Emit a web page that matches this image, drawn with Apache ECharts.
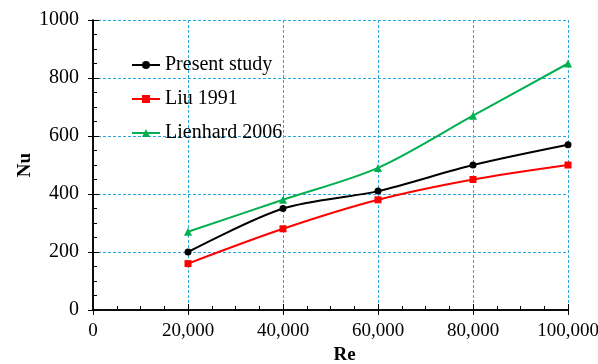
<!DOCTYPE html>
<html>
<head>
<meta charset="utf-8">
<script src="https://cdn.jsdelivr.net/npm/echarts@6/dist/echarts.min.js"></script>
<style>
  html, body { margin: 0; padding: 0; background: #fff; }
  #my-charts { width: 598px; height: 364px; }
</style>
</head>
<body>
<div id="my-charts"></div>
<script>
// data
var reValues = [20000, 40000, 60000, 80000, 100000]
var presentStudy = [200, 350, 410, 500, 570]
var liu1991 = [160, 280, 380, 450, 500]
var lienhard2006 = [270, 380, 490, 670, 850]
var seriesNames = ['Present study', 'Liu 1991', 'Lienhard 2006']

var font = '"Liberation Serif", "Times New Roman", serif'
var gridColor = '#2aa6e0'

function pairs(ys) {
  return reValues.map(function (x, i) { return [x, ys[i]] })
}

function fmt(v) {
  return String(v).replace(/\B(?=(\d{3})+(?!\d))/g, ',')
}

var myChart = echarts.init(document.getElementById('my-charts'))

var axisLine = { show: true, lineStyle: { color: '#000', width: 1.5 } }

var option = {
  animation: false,
  textStyle: { fontFamily: font },
  grid: { left: 93, right: 30, top: 20, bottom: 54, outerBoundsMode: 'none' },
  legend: {
    orient: 'vertical',
    left: 126,
    top: 50,
    itemWidth: 28,
    itemHeight: 10,
    itemGap: 14,
    data: seriesNames,
    textStyle: { fontFamily: font, fontSize: 20, color: '#000' }
  },
  xAxis: [
    {
      type: 'value',
      min: 0,
      max: 100000,
      interval: 20000,
      name: 'Re',
      nameLocation: 'middle',
      nameGap: 35,
      nameTextStyle: { fontFamily: font, fontSize: 19, fontWeight: 'bold', color: '#000', padding: [0, 0, 0, 28] },
      axisLine: axisLine,
      axisTick: { inside: true, length: 6, lineStyle: { color: '#000' } },
      minorTick: { show: true, splitNumber: 4, length: 4, lineStyle: { color: '#000' } },
      axisLabel: { fontFamily: font, fontSize: 19, color: '#000', margin: 12, formatter: fmt },
      splitLine: { show: true, lineStyle: { color: gridColor, type: [3, 2], width: 1 } }
    },
    {
      type: 'value',
      position: 'top',
      min: 0,
      max: 100000,
      interval: 20000,
      axisLine: axisLine,
      axisTick: { inside: true, length: 5, lineStyle: { color: '#000' } },
      axisLabel: { show: false },
      splitLine: { show: false }
    }
  ],
  yAxis: [
    {
      type: 'value',
      min: 0,
      max: 1000,
      interval: 200,
      name: 'Nu',
      nameLocation: 'middle',
      nameGap: 58,
      nameMoveOverlap: false,
      nameTextStyle: { fontFamily: font, fontSize: 19, fontWeight: 'bold', color: '#000' },
      axisLine: axisLine,
      axisTick: { inside: true, length: 6, lineStyle: { color: '#000' } },
      minorTick: { show: true, splitNumber: 4, length: 4, lineStyle: { color: '#000' } },
      axisLabel: { fontFamily: font, fontSize: 20, color: '#000', margin: 14, formatter: function (v) { return String(v) } },
      splitLine: { show: true, lineStyle: { color: gridColor, type: [3, 2], width: 1 } }
    },
    {
      type: 'value',
      position: 'right',
      min: 0,
      max: 1000,
      interval: 200,
      axisLine: axisLine,
      axisTick: { inside: true, length: 5, lineStyle: { color: '#000' } },
      axisLabel: { show: false },
      splitLine: { show: false }
    }
  ],
  series: [
    {
      name: seriesNames[0],
      type: 'line',
      smooth: 0.3,
      symbol: 'circle',
      symbolSize: 7,
      data: pairs(presentStudy),
      itemStyle: { color: '#000' },
      lineStyle: { color: '#000', width: 2 }
    },
    {
      name: seriesNames[1],
      type: 'line',
      smooth: 0.3,
      symbol: 'rect',
      symbolSize: 7,
      data: pairs(liu1991),
      itemStyle: { color: '#ff0000' },
      lineStyle: { color: '#ff0000', width: 2 }
    },
    {
      name: seriesNames[2],
      type: 'line',
      smooth: 0.3,
      symbol: 'triangle',
      symbolSize: 8,
      data: pairs(lienhard2006),
      itemStyle: { color: '#00b050' },
      lineStyle: { color: '#00b050', width: 2 }
    }
  ]
}

myChart.setOption(option)
</script>
</body>
</html>
